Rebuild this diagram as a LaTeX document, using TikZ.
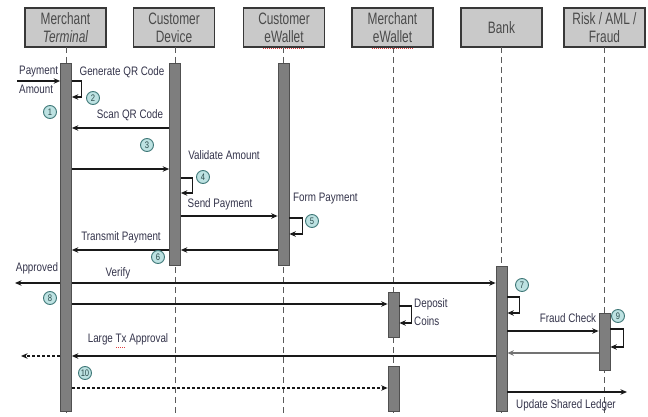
\documentclass[tikz,border=0pt]{standalone}
\usepackage{fontspec}
\setmainfont{Liberation Sans}[FakeStretch=0.8]
\newfontfamily\hdfont{Liberation Sans}[FakeStretch=0.72]
\usetikzlibrary{arrows.meta}
\definecolor{boxfill}{HTML}{C9C9C9}
\definecolor{hdrline}{HTML}{383838}
\definecolor{hdrtext}{HTML}{4A4A4A}
\definecolor{barfill}{HTML}{7E7E7E}
\definecolor{barline}{HTML}{505050}
\definecolor{lifecol}{HTML}{5A5A5A}
\definecolor{lbltext}{HTML}{33334A}
\definecolor{numfill}{HTML}{BDE2E2}
\definecolor{numline}{HTML}{3F7878}
\definecolor{numtext}{HTML}{2A4A4A}
\definecolor{spell}{HTML}{E04040}
\begin{document}
\begin{tikzpicture}[x=1pt,y=-1pt,
 hdr/.style={draw=hdrline, fill=boxfill, line width=1.3pt, minimum width=81pt, minimum height=39pt, inner sep=0pt, align=center, font=\hdfont\fontsize{16.5}{18}\selectfont, text=hdrtext},
 bar/.style={draw=barline, fill=barfill, line width=0.7pt, minimum width=11pt, inner sep=0pt},
 life/.style={draw=lifecol, dash pattern=on 6pt off 4pt, line width=0.9pt},
 msg/.style={draw=black!90, line width=1.1pt, -{Stealth[length=6.5pt,width=5.5pt]}},
 dmsg/.style={msg, dash pattern=on 3pt off 2pt},
 lbl/.style={font=\fontsize{12.3}{15}\selectfont, text=lbltext, inner sep=0pt},
 num/.style={circle, draw=numline, fill=numfill, line width=0.9pt, minimum size=13pt, inner sep=0pt, font=\fontsize{9.5}{9.5}\selectfont, text=numtext},
 spellmark/.style={draw=spell, line width=0.6pt, dash pattern=on 1pt off 1pt}
]
\useasboundingbox (0,0) rectangle (648,417);

% headers
\node[hdr] (mt) at (65.5,27.5) {Merchant\\\itshape Terminal};
\node[hdr] (cd) at (174,27.5) {Customer\\Device};
\node[hdr] (ce) at (284,27.5) {Customer\\eWallet};
\node[hdr] (me) at (392.5,27.5) {Merchant\\eWallet};
\node[hdr] (bk) at (501.5,27.5) {Bank};
\node[hdr] (rk) at (604.5,27.5) {Risk / AML /\\Fraud};
\draw[spellmark] (263,48.5) -- (305,48.5);
\draw[spellmark] (372,48.5) -- (414,48.5);

% lifelines
\draw[life] (66,47) -- (66,417);
\draw[life] (175,47) -- (175,417);
\draw[life] (283.5,47) -- (283.5,417);
\draw[life] (393.5,47) -- (393.5,417);
\draw[life] (501.5,47) -- (501.5,417);
\draw[life] (604.5,47) -- (604.5,417);

% activation bars
\node[bar, minimum height=348pt] (mtbar) at (66,237) {};
\node[bar, minimum height=202pt] (cdbar) at (175,164) {};
\node[bar, minimum height=202pt] (cebar) at (283.5,164) {};
\node[bar, minimum height=45pt] (mebar1) at (393.5,314.5) {};
\node[bar, minimum height=45pt] (mebar2) at (393.5,388.5) {};
\node[bar, minimum height=145pt] (bkbar) at (501.5,338.5) {};
\node[bar, minimum height=57pt] (rkbar) at (604.5,341.5) {};

% free ends
\coordinate (pay) at (17,81);
\coordinate (appr) at (15,283);
\coordinate (lout) at (21,356);
\coordinate (ledger) at (627,392);

% 1 payment amount
\draw[msg] (pay) -- (mtbar.west |- pay);
\node[lbl, anchor=west] (lpay) at (19,72) {Payment};
\node[lbl, anchor=west] (lamt) at (19,89) {Amount};
\node[num] (n1) at (50,112) {1};

% 2 generate QR
\draw[msg] (mtbar.east |- 0,81) -- ++(10,0) |- (mtbar.east |- 0,97);
\node[lbl] (lgen) at (122,72) {Generate QR Code};
\node[num] (n2) at (93,98) {2};

% 3 scan QR
\draw[msg] (cdbar.west |- 0,128) -- (mtbar.east |- 0,128);
\node[lbl] (lscan) at (130,115) {Scan QR Code};
\node[num] (n3) at (147,145) {3};
\draw[msg] (mtbar.east |- 0,169) -- (cdbar.west |- 0,169);

% 4 validate
\node[lbl] (lval) at (224,155) {Validate Amount};
\draw[msg] (cdbar.east |- 0,178) -- ++(12,0) |- (cdbar.east |- 0,193);
\node[num] (n4) at (203,177) {4};

% 5 send / form payment
\draw[msg] (cdbar.east |- 0,216) -- (cebar.west |- 0,216);
\node[lbl] (lsend) at (220,204) {Send Payment};
\node[lbl, anchor=west] (lform) at (293,199) {Form Payment};
\draw[msg] (cebar.east |- 0,218) -- ++(13,0) |- (cebar.east |- 0,234);
\node[num] (n5) at (312,221) {5};

% 6 transmit
\draw[msg] (cebar.west |- 0,250) -- (cdbar.east |- 0,250);
\draw[msg] (cdbar.west |- 0,250) -- (mtbar.east |- 0,250);
\node[lbl] (ltrans) at (121,237) {Transmit Payment};
\node[num] (n6) at (158,257) {6};

% approved / verify
\draw[msg] (mtbar.west |- appr) -- (appr);
\node[lbl] (lappr) at (37,268) {Approved};
\draw[msg] (mtbar.east |- 0,283) -- (bkbar.west |- 0,283);
\node[lbl] (lver) at (118,273) {Verify};
\node[num] (n7) at (522,285) {7};
\draw[msg] (bkbar.east |- 0,297) -- ++(12,0) |- (bkbar.east |- 0,313);

% 8 deposit
\node[num] (n8) at (50,298) {8};
\draw[msg] (mtbar.east |- 0,304) -- (mebar1.west |- 0,304);
\draw[msg] (mebar1.east |- 0,306) -- ++(12,0) |- (mebar1.east |- 0,323);
\node[lbl, anchor=west] (ldep) at (414,304) {Deposit};
\node[lbl, anchor=west] (lcoin) at (414,321) {Coins};

% 9 fraud check
\draw[msg] (bkbar.east |- 0,331) -- (rkbar.west |- 0,331);
\node[lbl] (lfraud) at (568,318) {Fraud Check};
\node[num] (n9) at (618,316) {9};
\draw[msg] (rkbar.east |- 0,329) -- ++(13,0) |- (rkbar.east |- 0,347);
\draw[msg, draw=black!55] (rkbar.west |- 0,353) -- (bkbar.east |- 0,353);

% large tx approval
\draw[msg] (bkbar.west |- 0,356) -- (mtbar.east |- 0,356);
\node[lbl] (llarge) at (128,339) {Large Tx Approval};
\draw[spellmark] (116,347) -- (125,347);
\draw[dmsg] (mtbar.west |- lout) -- (lout);

% 10
\node[num] (n10) at (85,373) {10};
\draw[dmsg] (mtbar.east |- 0,388) -- (mebar2.west |- 0,388);

% ledger
\draw[msg] (bkbar.east |- ledger) -- (ledger);
\node[lbl] (lledg) at (566,405) {Update Shared Ledger};
\end{tikzpicture}
\end{document}
